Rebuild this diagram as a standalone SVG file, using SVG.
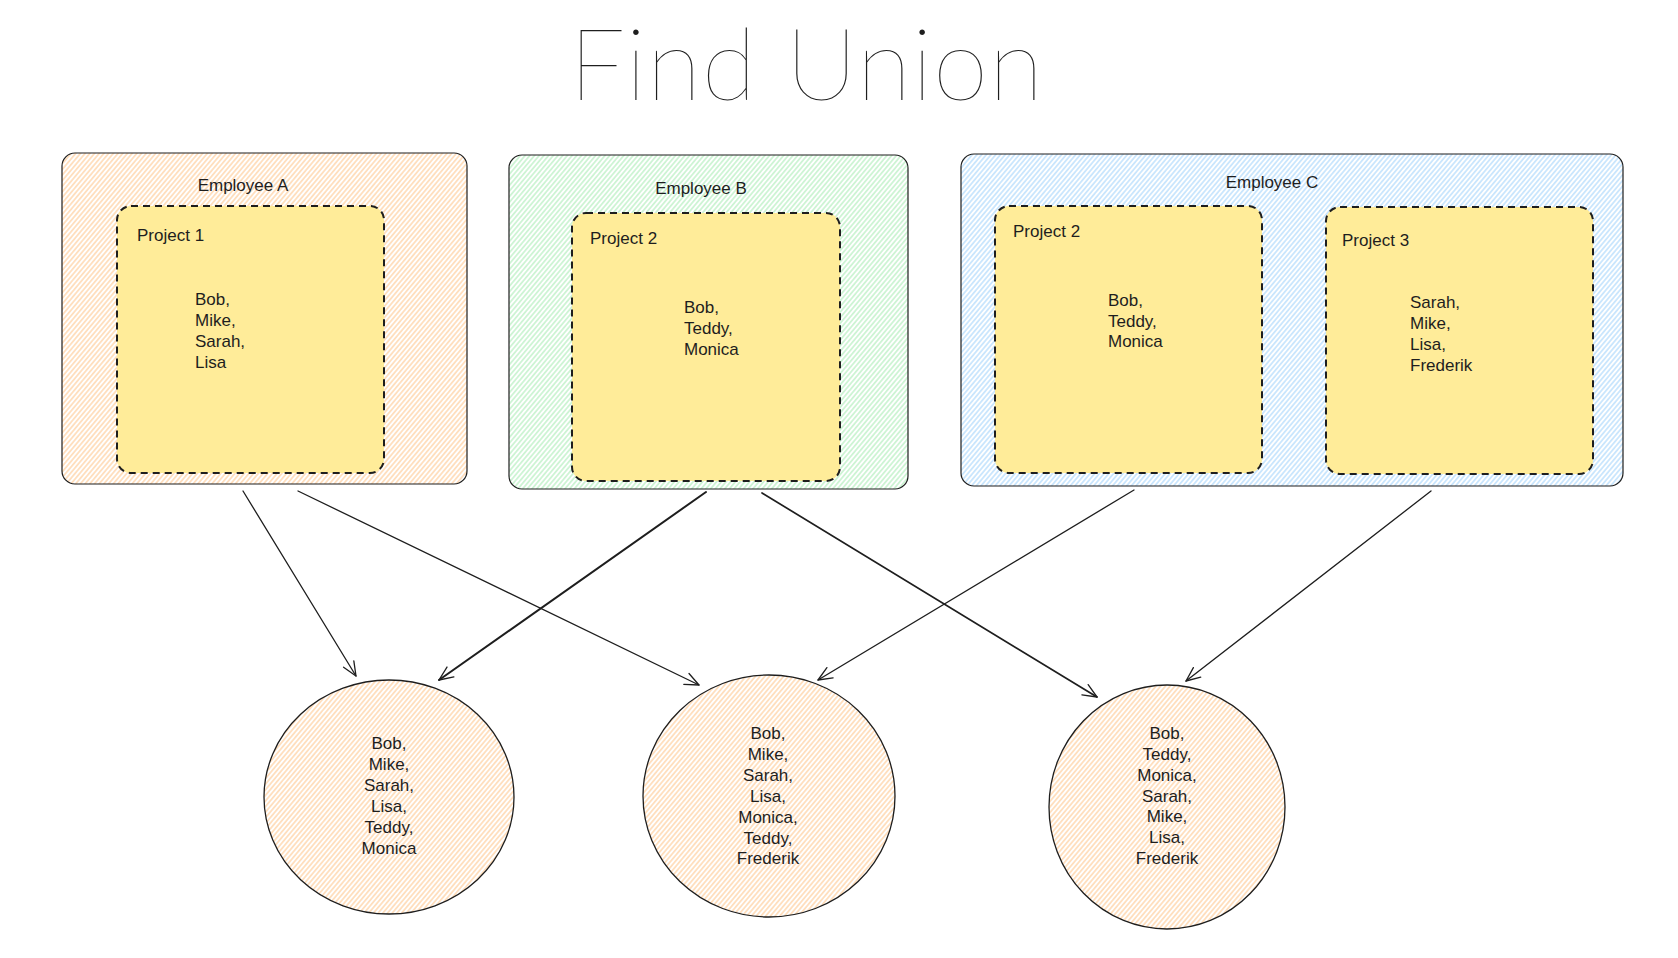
<svg xmlns="http://www.w3.org/2000/svg" width="1678" height="958" viewBox="0 0 1678 958">
<defs>
<pattern id="hOrange" patternUnits="userSpaceOnUse" width="3.6" height="10" patternTransform="rotate(40)">
<line x1="1.8" y1="0" x2="1.8" y2="10" stroke="#ffc58a" stroke-width="1"/>
</pattern>
<pattern id="hGreen" patternUnits="userSpaceOnUse" width="3.6" height="10" patternTransform="rotate(40)">
<line x1="1.8" y1="0" x2="1.8" y2="10" stroke="#a6ecb2" stroke-width="1"/>
</pattern>
<pattern id="hBlue" patternUnits="userSpaceOnUse" width="3.6" height="10" patternTransform="rotate(40)">
<line x1="1.8" y1="0" x2="1.8" y2="10" stroke="#9fd2fb" stroke-width="1"/>
</pattern>
<marker id="arr" markerUnits="userSpaceOnUse" markerWidth="20" markerHeight="20" refX="0" refY="0" viewBox="-16 -10 20 20" orient="auto">
<path d="M -14 -6 L 0 0 L -14 6" fill="none" stroke="#1e1e1e" stroke-width="1.3" stroke-linecap="round" stroke-linejoin="round"/>
</marker>
</defs>
<style>
.emp { stroke: #1e1e1e; stroke-width: 1.2; }
.proj { fill: #ffec99; stroke: #1e1e1e; stroke-width: 2; stroke-dasharray: 7 5; }
.circ { fill: url(#hOrange); stroke: #1e1e1e; stroke-width: 1.3; }
.t { font-family: "Liberation Sans", Arial, sans-serif; fill: #1e1e1e; font-size: 17px; }
.n { font-family: "Liberation Sans", Arial, sans-serif; fill: #1e1e1e; font-size: 17px; }
.c { text-anchor: middle; }
.conn { fill: none; stroke: #1e1e1e; stroke-width: 1.3; stroke-linecap: round; marker-end: url(#arr); }
</style>
<rect width="1678" height="958" fill="#ffffff"/>

<g id="title">
<text x="569" y="100" textLength="474" lengthAdjust="spacing" font-family="Lato, 'DejaVu Sans', sans-serif" font-weight="100" font-size="100" fill="#1e1e1e">Find Union</text>
</g>

<g id="employee-a">
<rect class="emp" x="62" y="153" width="405" height="331" rx="13" fill="url(#hOrange)"/>
<text class="t c" x="243" y="191">Employee A</text>
</g>
<g id="project-1">
<rect class="proj" x="117" y="206" width="267" height="267" rx="14"/>
<text class="n" x="137" y="241">Project 1</text>
<text class="n"><tspan x="195" y="305">Bob,</tspan><tspan x="195" y="326">Mike,</tspan><tspan x="195" y="347">Sarah,</tspan><tspan x="195" y="368">Lisa</tspan></text>
</g>

<g id="employee-b">
<rect class="emp" x="509" y="155" width="399" height="334" rx="13" fill="url(#hGreen)"/>
<text class="t c" x="701" y="194">Employee B</text>
</g>
<g id="project-2-b">
<rect class="proj" x="572" y="213" width="268" height="268" rx="14"/>
<text class="n" x="590" y="244">Project 2</text>
<text class="n"><tspan x="684" y="313">Bob,</tspan><tspan x="684" y="334">Teddy,</tspan><tspan x="684" y="355">Monica</tspan></text>
</g>

<g id="employee-c">
<rect class="emp" x="961" y="154" width="662" height="332" rx="13" fill="url(#hBlue)"/>
<text class="t c" x="1272" y="188">Employee C</text>
</g>
<g id="project-2-c">
<rect class="proj" x="995" y="206" width="267" height="267" rx="14"/>
<text class="n" x="1013" y="237">Project 2</text>
<text class="n"><tspan x="1108" y="306">Bob,</tspan><tspan x="1108" y="327">Teddy,</tspan><tspan x="1108" y="347">Monica</tspan></text>
</g>
<g id="project-3">
<rect class="proj" x="1326" y="207" width="267" height="267" rx="14"/>
<text class="n" x="1342" y="246">Project 3</text>
<text class="n"><tspan x="1410" y="308">Sarah,</tspan><tspan x="1410" y="329">Mike,</tspan><tspan x="1410" y="350">Lisa,</tspan><tspan x="1410" y="371">Frederik</tspan></text>
</g>

<g id="union-1">
<ellipse class="circ" cx="389" cy="797" rx="125" ry="117"/>
<text class="n c"><tspan x="389" y="749">Bob,</tspan><tspan x="389" y="770">Mike,</tspan><tspan x="389" y="791">Sarah,</tspan><tspan x="389" y="812">Lisa,</tspan><tspan x="389" y="833">Teddy,</tspan><tspan x="389" y="854">Monica</tspan></text>
</g>
<g id="union-2">
<ellipse class="circ" cx="769" cy="796" rx="126" ry="121"/>
<text class="n c"><tspan x="768" y="739">Bob,</tspan><tspan x="768" y="760">Mike,</tspan><tspan x="768" y="781">Sarah,</tspan><tspan x="768" y="802">Lisa,</tspan><tspan x="768" y="823">Monica,</tspan><tspan x="768" y="844">Teddy,</tspan><tspan x="768" y="864">Frederik</tspan></text>
</g>
<g id="union-3">
<ellipse class="circ" cx="1167" cy="807" rx="118" ry="122"/>
<text class="n c"><tspan x="1167" y="739">Bob,</tspan><tspan x="1167" y="760">Teddy,</tspan><tspan x="1167" y="781">Monica,</tspan><tspan x="1167" y="802">Sarah,</tspan><tspan x="1167" y="822">Mike,</tspan><tspan x="1167" y="843">Lisa,</tspan><tspan x="1167" y="864">Frederik</tspan></text>
</g>

<g id="connectors">
<path class="conn" d="M 243 491 L 356 676"/>
<path class="conn" d="M 298 491 L 699 685"/>
<path class="conn" d="M 706 492 L 439 680" style="stroke-width:2"/>
<path class="conn" d="M 762 493 L 1097 697" style="stroke-width:1.7"/>
<path class="conn" d="M 1134 490 L 818 680"/>
<path class="conn" d="M 1431 491 L 1186 681"/>
</g>
</svg>
